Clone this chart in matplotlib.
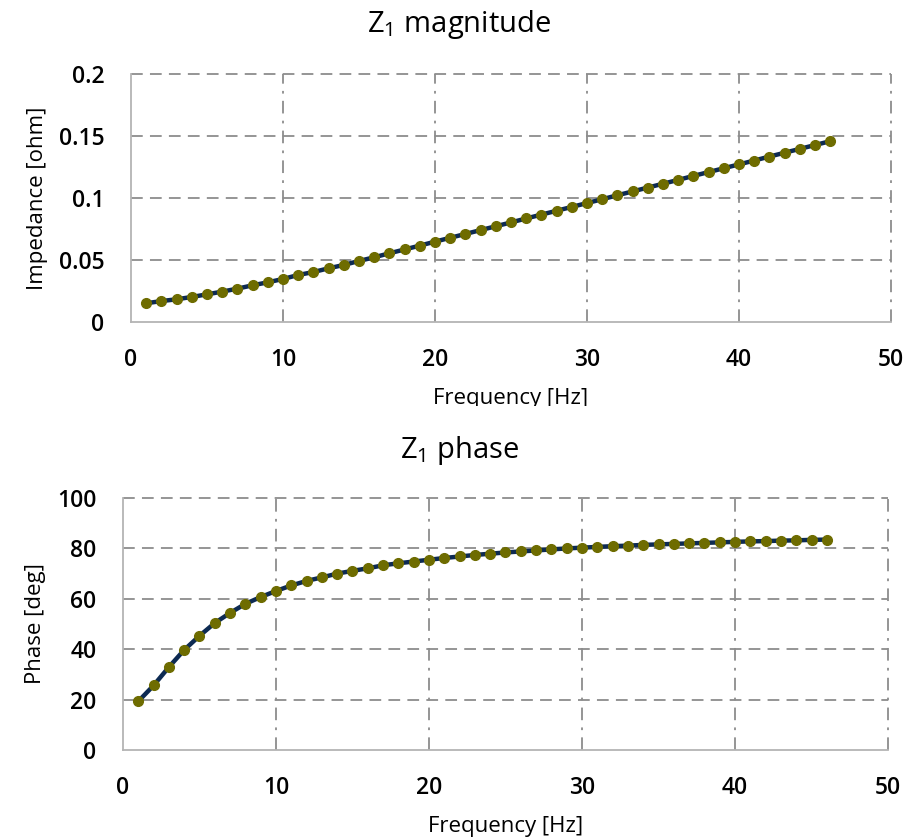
import matplotlib
matplotlib.use("Agg")
import matplotlib.pyplot as plt
from matplotlib.transforms import Bbox

plt.rcParams['font.family'] = ['Open Sans', 'DejaVu Sans']

freq = list(range(1, 47))

magnitude = [0.0151, 0.0169, 0.0183, 0.0202, 0.0223, 0.0245, 0.0269, 0.0296, 0.0320, 0.0347,
             0.0379, 0.0403, 0.0433, 0.0460, 0.0492, 0.0522, 0.0554, 0.0585, 0.0616, 0.0648,
             0.0679, 0.0710, 0.0741, 0.0772, 0.0803, 0.0835, 0.0866, 0.0897, 0.0928, 0.0959,
             0.0990, 0.1022, 0.1053, 0.1084, 0.1115, 0.1146, 0.1178, 0.1209, 0.1240, 0.1271,
             0.1302, 0.1334, 0.1365, 0.1396, 0.1427, 0.1458]

phase = [19.3, 25.6, 32.9, 39.7, 45.3, 50.4, 54.4, 58.0, 60.7, 63.1,
         65.3, 67.1, 68.5, 70.0, 71.1, 72.1, 73.3, 74.1, 74.8, 75.5,
         76.2, 76.8, 77.4, 77.9, 78.4, 78.8, 79.2, 79.6, 80.0, 80.3,
         80.6, 80.9, 81.1, 81.4, 81.6, 81.8, 82.0, 82.2, 82.4, 82.6,
         82.8, 82.9, 83.1, 83.2, 83.4, 83.5]

x_ticks = [0, 10, 20, 30, 40, 50]
mag_ticks = [0, 0.05, 0.1, 0.15, 0.2]
mag_labels = ['0', '0.05', '0.1', '0.15', '0.2']
phase_ticks = [0, 20, 40, 60, 80, 100]

line_col = '#0d2a52'
dot_col = '#6e6c00'
grid_col = '#8c8c8c'
spine_col = '#b4b4b4'

fig = plt.figure(figsize=(9.19, 8.39), dpi=100)
ax1 = fig.add_axes([0.1425, 0.6162, 0.827, 0.2956])
ax2 = fig.add_axes([0.1338, 0.1061, 0.8325, 0.3003])


def style(ax, yticks, ylabels, ylim):
    ax.set_xlim(0, 50)
    ax.set_ylim(*ylim)
    ax.set_xticks(x_ticks)
    ax.set_yticks(yticks)
    ax.set_yticklabels(ylabels)
    ax.tick_params(length=0, labelsize=16.5, pad=19, labelcolor='black')
    for lab in ax.get_xticklabels() + ax.get_yticklabels():
        lab.set_fontweight('semibold')
    for s in ['top', 'right']:
        ax.spines[s].set_visible(False)
    for s in ['left', 'bottom']:
        ax.spines[s].set_color(spine_col)
        ax.spines[s].set_linewidth(1.3)
    for y in yticks[1:]:
        ax.axhline(y, color=grid_col, lw=1.3, ls=(0, (6.5, 4)), zorder=1, clip_on=False)
    for x in x_ticks[1:]:
        ax.axvline(x, color=grid_col, lw=1.3, ls=(0, (7, 4, 1.5, 4)), zorder=1, clip_on=False)


style(ax1, mag_ticks, mag_labels, (0, 0.2))
style(ax2, phase_ticks, [str(t) for t in phase_ticks], (0, 100))

for ax, vals in [(ax1, magnitude), (ax2, phase)]:
    ax.plot(freq, vals, color=line_col, lw=3.2, zorder=3, solid_capstyle='round')
    ax.plot(freq, vals, ls='none', marker='o', ms=7, color=dot_col, zorder=4)

# titles sit on the figure centre, not the axes centre
fig.text(0.5, 1 - 32 / 839, 'Z$_{\\mathregular{1}}$ magnitude', fontsize=21,
         ha='center', va='baseline')
fig.text(0.5, 1 - 458 / 839, 'Z$_{\\mathregular{1}}$ phase', fontsize=21,
         ha='center', va='baseline')

ax1.set_ylabel('Impedance [ohm]', fontsize=16, labelpad=8)
ax2.set_ylabel('Phase [deg]', fontsize=16, labelpad=8)
xl1 = ax1.set_xlabel('Frequency [Hz]', fontsize=16, labelpad=11)
ax2.set_xlabel('Frequency [Hz]', fontsize=16, labelpad=11)

# top x label is cut off at the bottom in the original
xl1.set_clip_box(Bbox([[0, 839 - 406], [919, 839]]))
xl1.set_clip_on(True)

fig.savefig('out.png', dpi=100)
